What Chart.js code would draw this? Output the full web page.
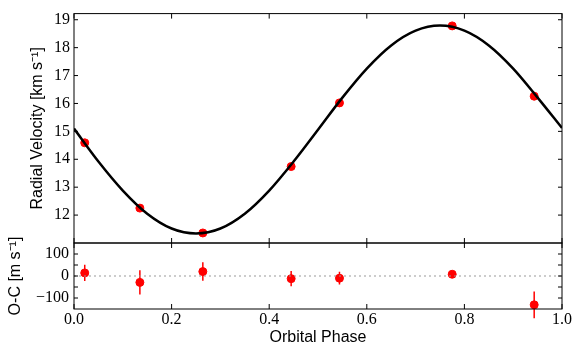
<!DOCTYPE html>
<html>
<head>
<meta charset="utf-8">
<script src="https://cdn.jsdelivr.net/npm/chart.js@4.4.0/dist/chart.umd.min.js"></script>
<style>
  html, body { margin: 0; padding: 0; background: #fff; }
  #wrap { position: relative; width: 581px; height: 351px; }
  #wrap canvas { position: absolute; left: 0; top: 0; }
</style>
</head>
<body>
<div id="wrap">
  <canvas id="rvChart" width="581" height="351"></canvas>
  <canvas id="ocChart" width="581" height="351"></canvas>
</div>
<script>
// observed points
const phase = [0.022, 0.135, 0.264, 0.445, 0.544, 0.775, 0.943];
const rv = [14.59, 12.25, 11.36, 13.74, 16.02, 18.78, 16.26];
const oc = [14, -29, 20, -12, -10, 8, -131];
const ocErr = [37, 55, 42, 35, 29, 15, 61];

// orbit model
const modelPhase = [0, 0.05, 0.1, 0.15, 0.2, 0.25, 0.3, 0.35, 0.4, 0.45, 0.5,
                    0.55, 0.6, 0.65, 0.7, 0.75, 0.8, 0.85, 0.9, 0.95, 1.0];
const modelRv = [15.10, 13.92, 12.88, 12.05, 11.52, 11.34, 11.52, 12.05, 12.88, 13.92, 15.06,
                 16.21, 17.25, 18.08, 18.61, 18.79, 18.61, 18.08, 17.25, 16.21, 15.12];

// ticks
const phaseTicks = [0, 0.2, 0.4, 0.6, 0.8, 1.0];
const rvTicks = [12, 13, 14, 15, 16, 17, 18, 19];
const ocTicks = [-100, 0, 100];
const ocTickMarks = [-100, -50, 0, 50, 100];

const serifFamily = 'serif';
const serifSize = 16;
const sansFamily = 'Liberation Sans';

// box + inward ticks, matplotlib style
const framePlugin = {
    id: 'frame',
    afterDraw(chart, args, opts) {
        const { ctx, chartArea: a, scales } = chart;
        ctx.save();
        ctx.strokeStyle = '#000';
        ctx.lineWidth = 1;
        ctx.strokeRect(a.left, a.top, a.right - a.left, a.bottom - a.top);
        ctx.beginPath();
        phaseTicks.forEach(v => {
            const x = scales.x.getPixelForValue(v);
            ctx.moveTo(x, a.top);
            ctx.lineTo(x, a.top + 5);
            ctx.moveTo(x, a.bottom);
            ctx.lineTo(x, a.bottom - 5);
        });
        opts.yTicks.forEach(v => {
            const y = scales.y.getPixelForValue(v);
            ctx.moveTo(a.left, y);
            ctx.lineTo(a.left + 4, y);
            ctx.moveTo(a.right, y);
            ctx.lineTo(a.right - 4, y);
        });
        ctx.stroke();
        ctx.restore();
    }
};

const errorBarPlugin = {
    id: 'errorBars',
    beforeDatasetsDraw(chart, args, opts) {
        const { ctx, scales } = chart;
        const ds = chart.data.datasets[opts.datasetIndex];
        ctx.save();
        ctx.strokeStyle = '#ff0000';
        ctx.lineWidth = 1.5;
        ctx.beginPath();
        ds.data.forEach((p, i) => {
            const x = scales.x.getPixelForValue(p.x);
            ctx.moveTo(x, scales.y.getPixelForValue(p.y - opts.err[i]));
            ctx.lineTo(x, scales.y.getPixelForValue(p.y + opts.err[i]));
        });
        ctx.stroke();
        ctx.restore();
    }
};

function minusSign(v) {
    return v < 0 ? '\u2212' + Math.abs(v) : String(v);
}

new Chart(document.getElementById('rvChart'), {
    type: 'scatter',
    data: {
        datasets: [{
            type: 'line',
            data: modelPhase.map((p, i) => ({ x: p, y: modelRv[i] })),
            borderColor: '#000',
            borderWidth: 2.5,
            pointRadius: 0,
            cubicInterpolationMode: 'monotone'
        }, {
            data: phase.map((p, i) => ({ x: p, y: rv[i] })),
            backgroundColor: '#ff0000',
            borderColor: '#ff0000',
            pointRadius: 4
        }]
    },
    options: {
        responsive: false,
        animation: false,
        layout: { padding: { left: 28, right: 19, top: 7, bottom: 108 } },
        plugins: {
            legend: { display: false },
            tooltip: { enabled: false },
            frame: { yTicks: rvTicks },
            errorBars: { datasetIndex: 1, err: ocErr.map(e => e / 1000) }
        },
        scales: {
            x: { type: 'linear', min: 0, max: 1, display: false },
            y: {
                min: 11,
                max: 19.22,
                afterBuildTicks: s => { s.ticks = rvTicks.map(v => ({ value: v })); },
                afterFit: s => { s.width = 46; },
                grid: { display: false, drawTicks: false },
                border: { display: false },
                ticks: { padding: 4, color: '#000', font: { family: serifFamily, size: serifSize } },
                title: {
                    display: true,
                    text: 'Radial Velocity [km s\u207B\u00B9]',
                    color: '#000',
                    font: { family: sansFamily, size: 16 },
                    padding: 0
                }
            }
        }
    },
    plugins: [framePlugin, errorBarPlugin]
});

new Chart(document.getElementById('ocChart'), {
    type: 'scatter',
    data: {
        datasets: [{
            type: 'line',
            data: [{ x: 0, y: 0 }, { x: 1, y: 0 }],
            borderColor: '#999',
            borderWidth: 1,
            borderDash: [2, 3],
            pointRadius: 0
        }, {
            data: phase.map((p, i) => ({ x: p, y: oc[i] })),
            backgroundColor: '#ff0000',
            borderColor: '#ff0000',
            pointRadius: 4
        }]
    },
    options: {
        responsive: false,
        animation: false,
        layout: { padding: { left: 6, right: 19, top: 243, bottom: 4 } },
        plugins: {
            legend: { display: false },
            tooltip: { enabled: false },
            frame: { yTicks: ocTickMarks },
            errorBars: { datasetIndex: 1, err: ocErr }
        },
        scales: {
            x: {
                type: 'linear',
                min: 0,
                max: 1,
                afterBuildTicks: s => { s.ticks = phaseTicks.map(v => ({ value: v })); },
                afterFit: s => { s.height = 38; },
                grid: { display: false, drawTicks: false },
                border: { display: false },
                ticks: { padding: 1, color: '#000', font: { family: serifFamily, size: serifSize },
                         maxRotation: 0, callback: v => v.toFixed(1) },
                title: {
                    display: true,
                    text: 'Orbital Phase',
                    color: '#000',
                    font: { family: sansFamily, size: 16 },
                    padding: 0
                }
            },
            y: {
                min: -150,
                max: 150,
                afterBuildTicks: s => { s.ticks = ocTicks.map(v => ({ value: v })); },
                afterFit: s => { s.width = 68; },
                grid: { display: false, drawTicks: false },
                border: { display: false },
                ticks: { padding: 5, color: '#000', font: { family: serifFamily, size: serifSize },
                         callback: minusSign },
                title: {
                    display: true,
                    text: 'O-C [m s\u207B\u00B9]',
                    color: '#000',
                    font: { family: sansFamily, size: 16 },
                    padding: 0
                }
            }
        }
    },
    plugins: [framePlugin, errorBarPlugin]
});
</script>
</body>
</html>
